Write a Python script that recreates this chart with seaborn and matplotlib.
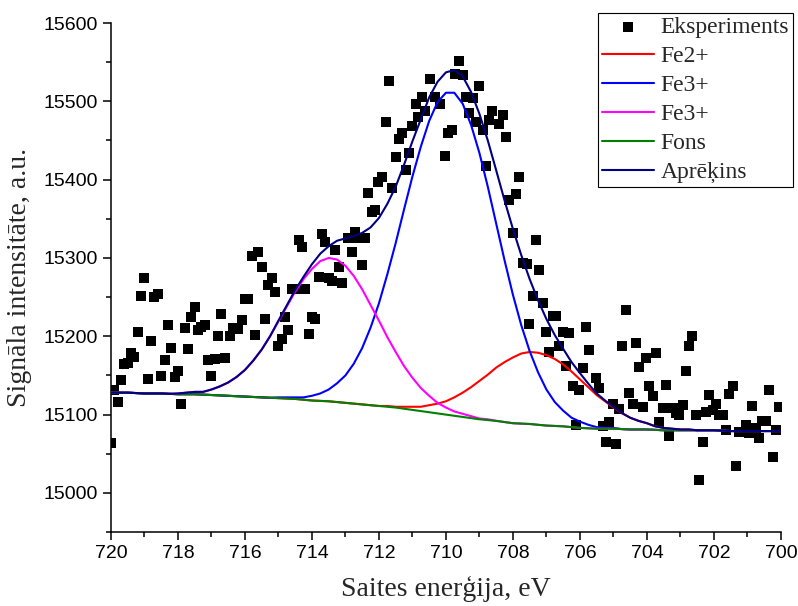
import numpy as np
import pandas as pd
import seaborn as sns
import matplotlib
matplotlib.use("Agg")
import matplotlib.pyplot as plt
from matplotlib.ticker import MultipleLocator

exp_energy = [
    720.0, 719.9, 719.8, 719.7, 719.6, 719.5, 719.4, 719.3, 719.2, 719.1,
    719.0, 718.9, 718.8, 718.7, 718.6, 718.5, 718.4, 718.3, 718.2, 718.1,
    718.0, 717.9, 717.8, 717.7, 717.6, 717.5, 717.4, 717.3, 717.2, 717.1,
    717.0, 716.9, 716.8, 716.7, 716.6, 716.45, 716.35, 716.2, 716.1, 716.0,
    715.9, 715.8, 715.7, 715.6, 715.5, 715.4, 715.3, 715.2, 715.1, 715.0,
    714.9, 714.8, 714.7, 714.6, 714.5, 714.4, 714.3, 714.2, 714.1, 714.0,
    713.9, 713.8, 713.7, 713.6, 713.5, 713.4, 713.3, 713.2, 713.1, 712.92,
    712.81, 712.72, 712.62, 712.52, 712.42, 712.32, 712.22, 712.12, 712.02, 711.92,
    711.8, 711.7, 711.62, 711.5, 711.4, 711.3, 711.2, 711.1, 711.0, 710.9,
    710.83, 710.71, 710.61, 710.48, 710.33, 710.18, 710.03, 709.93, 709.83, 709.73,
    709.6, 709.5, 709.4, 709.3, 709.2, 709.1, 709.0, 708.9, 708.81, 708.71,
    708.61, 708.41, 708.31, 708.21, 708.11, 708.01, 707.91, 707.81, 707.71, 707.59,
    707.51, 707.41, 707.31, 707.21, 707.11, 707.01, 706.92, 706.8, 706.7, 706.62,
    706.52, 706.42, 706.32, 706.22, 706.12, 706.02, 705.92, 705.82, 705.72, 705.52,
    705.42, 705.32, 705.22, 705.13, 705.02, 704.93, 704.83, 704.73, 704.63, 704.53,
    704.43, 704.33, 704.23, 704.13, 704.03, 703.93, 703.83, 703.73, 703.63, 703.53,
    703.43, 703.33, 703.23, 703.13, 703.04, 702.93, 702.84, 702.74, 702.64, 702.54,
    702.44, 702.34, 702.24, 702.14, 702.04, 701.94, 701.84, 701.74, 701.64, 701.54,
    701.44, 701.34, 701.24, 701.04, 700.95, 700.85, 700.75, 700.65, 700.55, 700.45,
    700.35, 700.25, 700.15, 700.05,
]
exp_counts = [
    15064, 15132, 15116, 15144, 15165, 15166, 15179, 15174, 15206, 15251,
    15274, 15146, 15194, 15250, 15254, 15149, 15170, 15215, 15185, 15148,
    15156, 15114, 15210, 15184, 15225, 15237, 15208, 15212, 15215, 15170,
    15149, 15171, 15200, 15229, 15172, 15200, 15210, 15209, 15221, 15248,
    15247, 15302, 15202, 15308, 15289, 15222, 15266, 15274, 15257, 15187,
    15196, 15224, 15208, 15260, 15261, 15323, 15314, 15260, 15203, 15224,
    15222, 15276, 15331, 15320, 15274, 15271, 15310, 15289, 15268, 15326,
    15308, 15333, 15326, 15291, 15326, 15383, 15359, 15361, 15397, 15404,
    15474, 15526, 15389, 15429, 15452, 15460, 15412, 15434, 15468, 15497,
    15480, 15506, 15488, 15528, 15505, 15497, 15430, 15460, 15463, 15535,
    15551, 15534, 15506, 15485, 15504, 15474, 15520, 15463, 15417, 15476,
    15488, 15471, 15482, 15455, 15374, 15332, 15382, 15403, 15293, 15292,
    15216, 15252, 15323, 15284, 15243, 15205, 15180, 15226, 15226, 15188,
    15206, 15162, 15204, 15137, 15087, 15132, 15159, 15212, 15183, 15147,
    15134, 15085, 15065, 15091, 15114, 15063, 15107, 15187, 15234, 15127,
    15114, 15192, 15161, 15110, 15172, 15136, 15124, 15179, 15091, 15108,
    15138, 15073, 15108, 15102, 15100, 15112, 15156, 15187, 15200, 15099,
    15017, 15065, 15103, 15125, 15106, 15114, 15099, 15099, 15080, 15126,
    15136, 15034, 15078, 15087, 15077, 15111, 15083, 15070, 15092, 15092,
    15132, 15046, 15080, 15110,
]

# fitted curves, read every 0.25 eV from 720 down to 700 (one row per eV)
fit_energy = np.linspace(720, 700, 81)
fons = [
    15128, 15128, 15128, 15127.5,   # 720
    15127, 15127, 15127, 15126.5,   # 719
    15126, 15126, 15126, 15125.5,   # 718
    15125, 15124.5, 15124, 15123.5,  # 717
    15123, 15122.5, 15122, 15121.5,  # 716
    15121, 15120.5, 15120, 15119,   # 715
    15118, 15117.5, 15117, 15116,   # 714
    15115, 15114, 15113, 15112,     # 713
    15111, 15110, 15109, 15107.5,   # 712
    15106, 15104.5, 15103, 15101.5,  # 711
    15100, 15098.5, 15097, 15095.5,  # 710
    15094, 15093, 15092, 15090.5,   # 709
    15089, 15088.5, 15088, 15087,   # 708
    15086, 15085.5, 15085, 15084,   # 707
    15083, 15082.5, 15082, 15082,   # 706
    15082, 15081.5, 15081, 15081,   # 705
    15081, 15080.5, 15080, 15080,   # 704
    15080, 15080, 15080, 15080,     # 703
    15080, 15079.5, 15079, 15079,   # 702
    15079, 15079, 15079, 15079,     # 701
    15079,                          # 700
]
fe2 = [
    15128, 15128, 15128, 15127.5,
    15127, 15127, 15127, 15126.5,
    15126, 15126, 15126, 15125.5,
    15125, 15124.5, 15124, 15123.5,
    15123, 15122.5, 15122, 15121.5,
    15121, 15120.5, 15120, 15119,
    15118, 15117.5, 15117, 15116,
    15115, 15114, 15113, 15112,
    15111, 15111, 15110, 15110,
    15110, 15110, 15112, 15114,
    15117, 15122, 15128, 15135,
    15143, 15151, 15160, 15167,
    15173, 15178, 15180, 15179,
    15176, 15171, 15164, 15155,
    15145, 15135, 15125, 15117,
    15109, 15102, 15096, 15092,
    15089, 15085, 15083, 15082,
    15081, 15081, 15080, 15080,
    15080, 15079.5, 15079, 15079,
    15079, 15079, 15079, 15079,
    15079,
]
fe3_main = [
    15128, 15128, 15128, 15127.5,
    15127, 15127, 15127, 15126.5,
    15126, 15126, 15126, 15125.5,
    15125, 15124.5, 15124, 15123.5,
    15123, 15122.5, 15122, 15121.5,
    15122, 15122, 15122, 15122,
    15124, 15127, 15132, 15140,
    15150, 15165, 15185, 15211,
    15242, 15279, 15319, 15362,
    15404, 15442, 15475, 15499,
    15511, 15511, 15497, 15470,
    15434, 15391, 15344, 15297,
    15253, 15214, 15181, 15154,
    15132, 15116, 15105, 15096,
    15091, 15087, 15084, 15083,
    15083, 15081.5, 15081, 15081,
    15081, 15080.5, 15080, 15080,
    15080, 15080, 15080, 15080,
    15080, 15079.5, 15079, 15079,
    15079, 15079, 15079, 15079,
    15079,
]
fe3_sat = [
    15128, 15128, 15128, 15127.5,
    15127, 15127, 15127, 15126.5,
    15127, 15128, 15129, 15129,
    15132, 15136, 15141, 15148,
    15157, 15169, 15183, 15200,
    15219, 15238, 15257, 15273,
    15286, 15296, 15300, 15298,
    15290, 15277, 15260, 15240,
    15220, 15199, 15180, 15162,
    15147, 15134, 15124, 15115,
    15109, 15104, 15101, 15098,
    15095, 15094, 15092, 15090.5,
    15089, 15088.5, 15088, 15087,
    15086, 15085.5, 15085, 15084,
    15083, 15082.5, 15082, 15082,
    15082, 15081.5, 15081, 15081,
    15081, 15080.5, 15080, 15080,
    15080, 15080, 15080, 15080,
    15080, 15079.5, 15079, 15079,
    15079, 15079, 15079, 15079,
    15079,
]

fit = pd.DataFrame({"E": fit_energy, "Fe2": fe2, "Fe3a": fe3_main,
                    "Fe3b": fe3_sat, "Fons": fons})
# envelope: every component sits on the same background
fit["Apr"] = fit.Fe2 + fit.Fe3a + fit.Fe3b - 2 * fit.Fons

sns.set_style("ticks")
plt.rcParams['font.family'] = ['Liberation Sans', 'DejaVu Sans']

fig = plt.figure(figsize=(7.98, 6.06), dpi=100)
ax = fig.add_axes([0.139, 0.122, 0.8396, 0.840])

sns.scatterplot(x=exp_energy, y=exp_counts, marker='s', s=50, color='black',
                linewidth=0, label='Eksperiments', ax=ax, zorder=2)
lw = 1.5
sns.lineplot(data=fit, x="E", y="Fe2", color='#ff0000', lw=lw, label='Fe2+',
             estimator=None, sort=False, ax=ax, zorder=3)
sns.lineplot(data=fit, x="E", y="Fe3a", color='#0000ff', lw=lw, label='Fe3+',
             estimator=None, sort=False, ax=ax, zorder=3)
sns.lineplot(data=fit, x="E", y="Fe3b", color='#ff00ff', lw=lw, label='Fe3+',
             estimator=None, sort=False, ax=ax, zorder=3)
sns.lineplot(data=fit, x="E", y="Fons", color='#008000', lw=lw, label='Fons',
             estimator=None, sort=False, ax=ax, zorder=3)
sns.lineplot(data=fit, x="E", y="Apr", color='#000080', lw=lw, label='Aprēķins',
             estimator=None, sort=False, ax=ax, zorder=4)

ax.set_xlim(720, 700)
ax.set_ylim(14950, 15600)
ax.xaxis.set_major_locator(MultipleLocator(2))
ax.xaxis.set_minor_locator(MultipleLocator(1))
ax.yaxis.set_major_locator(MultipleLocator(100))
ax.yaxis.set_minor_locator(MultipleLocator(50))
ax.tick_params(which='major', direction='out', length=6, width=1.1,
               labelsize=14, color='black', labelcolor='black')
ax.tick_params(which='minor', direction='out', length=3.5, width=1.1,
               color='black')
sns.despine(ax=ax)
for sp in ['left', 'bottom']:
    ax.spines[sp].set_linewidth(1.1)
    ax.spines[sp].set_color('black')

ax.set_xlabel("Saites enerģija, eV", fontfamily='Liberation Serif',
              fontsize=20, labelpad=10)
ax.set_ylabel("Signāla intensitāte, a.u.", fontfamily='Liberation Serif',
              fontsize=20, labelpad=8)

leg = ax.legend(loc='upper left', bbox_to_anchor=(0.7494, 0.979),
                bbox_transform=fig.transFigure, frameon=True, fancybox=False,
                prop={'family': 'Liberation Serif', 'size': 17},
                borderpad=0.15, borderaxespad=0, handlelength=2.2,
                handletextpad=0.3, labelspacing=0.32)
leg.get_frame().set_edgecolor('black')
leg.get_frame().set_linewidth(0.8)
leg.get_frame().set_alpha(1)

fig.savefig("out.png", dpi=100)
